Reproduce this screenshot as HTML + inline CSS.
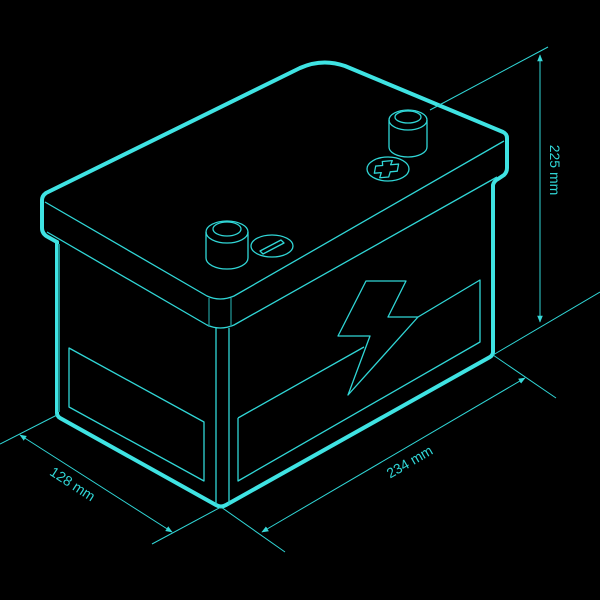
<!DOCTYPE html>
<html><head><style>html,body{margin:0;padding:0;background:#000}svg{display:block}</style></head>
<body>
<svg width="600" height="600" viewBox="0 0 600 600" xmlns="http://www.w3.org/2000/svg">
<rect width="600" height="600" fill="#000"/>
<defs>
<marker id="ar" viewBox="0 0 10 10" refX="9" refY="5" markerWidth="7" markerHeight="7" orient="auto-start-reverse"><path d="M0,1 L10,5 L0,9 Z" fill="#37d8d8"/></marker>
</defs>
<g fill="none" stroke="#3fe3e3" stroke-width="4" stroke-linejoin="round" stroke-linecap="round">
<path d="M57,242 L57,413 Q57,416 60,418 L216,505 Q221,508 226,505 L490,357 Q493,355 493,352 L493,185 Q494,181 498,179 L504,175 Q507,172 507,168 L507,138 Q507,134 503,132 L345,66 Q322,58 300,68 L46,193 Q42,196 42,200 L42,228 Q42,234 48,237 L57,242"/>
</g>
<g fill="none" stroke="#30d6d6" stroke-width="1.3" stroke-linejoin="round">
<path d="M45,202 L207,296 Q220,302 234,296 L504,141"/>
<path d="M47,232 L207,325 Q220,331 234,325 L497,177"/>
<path d="M59,244 L59,412" stroke="#1e8f8f" stroke-width="2"/>
<path d="M209,298 L209,327 M231,298 L231,327" stroke="#1e8f8f"/>
<path d="M216,328 L216,505 M229,328 L229,505"/>
<path d="M69,348 L69,407 L204,481 L204,422 Z"/>
<path d="M238,418 L238,481 L480,342 L480,280 L418,317 M364,347 L238,418"/>
<path d="M366,281 L406,281 L388,317 L418,317 L348,395 L370,336 L338,336 Z"/>
<ellipse cx="227" cy="232" rx="21" ry="11"/>
<ellipse cx="227" cy="229" rx="14" ry="7"/>
<path d="M206,232 L206,258 A21,11 0 0 0 248,258 L248,232"/>
<ellipse cx="272" cy="246" rx="21" ry="11"/>
<path d="M260,251 L281,240 L284,243 L263,254 Z"/>
<ellipse cx="408" cy="120" rx="19" ry="10"/>
<ellipse cx="408" cy="117" rx="13" ry="6"/>
<path d="M389,120 L389,147 A19,10 0 0 0 427,147 L427,120"/>
<ellipse cx="388" cy="169" rx="21" ry="12"/>
<path d="M383,161 L393,161 L391,165 L399,165 L397,172 L390,172 L388,177 L379,177 L381,172 L374,172 L376,165 L383,165 Z" transform="rotate(-5 388 169)"/>
</g>
<g fill="none" stroke="#30d6d6" stroke-width="1">
<path d="M430,110 L548,47"/>
<path d="M493,355 L600,292"/>
<path d="M493,355 L556,398"/>
<path d="M221,507 L285,552"/>
<path d="M57,415 L0,444"/>
<path d="M221,507 L152,544"/>
<path d="M540,55 L540,322" marker-start="url(#ar)" marker-end="url(#ar)"/>
<path d="M262,532 L525,378" marker-start="url(#ar)" marker-end="url(#ar)"/>
<path d="M20,435 L172,532" marker-start="url(#ar)" marker-end="url(#ar)"/>
</g>
<g fill="#30d6d6" font-family="Liberation Sans, sans-serif" font-size="14">
<text transform="translate(550,170) rotate(90)" text-anchor="middle">225 mm</text>
<text transform="translate(412,466) rotate(-30)" text-anchor="middle">234 mm</text>
<text transform="translate(70,488) rotate(33)" text-anchor="middle">128 mm</text>
</g>
</svg>
</body></html>
